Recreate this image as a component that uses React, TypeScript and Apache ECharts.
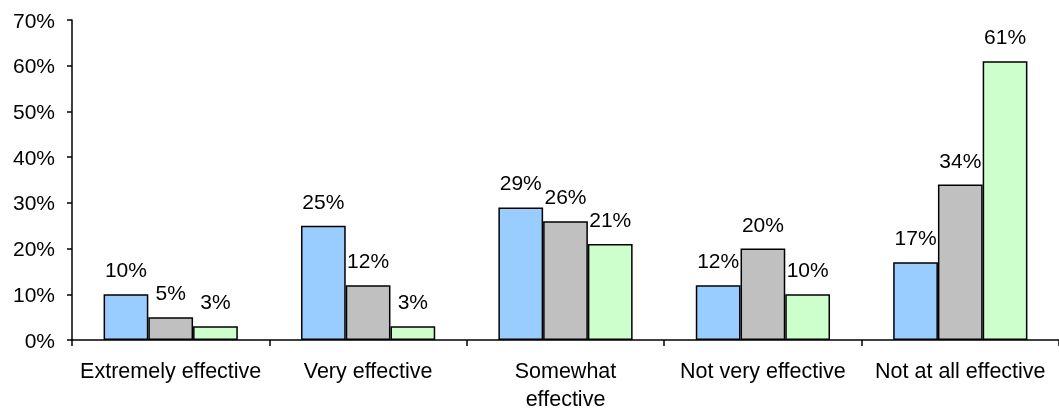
import React, { useEffect, useRef } from "react";
import * as echarts from "echarts";

const categories = [
  "Extremely effective",
  "Very effective",
  "Somewhat\neffective",
  "Not very effective",
  "Not at all effective",
];
const seriesNames = ["Series 1", "Series 2", "Series 3"];
const series1 = [10, 25, 29, 12, 17];
const series2 = [5, 12, 26, 20, 34];
const series3 = [3, 3, 21, 10, 61];
const colors = ["#99CCFF", "#C0C0C0", "#CCFFCC"];
const yTicks = { min: 0, max: 70, interval: 10 };

export default function App() {
  const ref = useRef<HTMLDivElement>(null);
  useEffect(() => {
    if (!ref.current) return;
    const chart = echarts.init(ref.current, undefined, { renderer: "svg" });
    const font = "Liberation Sans, Arial, sans-serif";
    const data = [series1, series2, series3];
    chart.setOption({
      animation: false,
      grid: { left: 72, right: -8, top: 20, bottom: 69, containLabel: false },
      xAxis: {
        type: "category",
        data: categories,
        axisLine: { lineStyle: { color: "#000", width: 1.5 } },
        axisTick: { show: true, length: 6, lineStyle: { color: "#000", width: 1.5 } },
        axisLabel: {
          color: "#000",
          fontFamily: font,
          fontSize: 21.5,
          margin: 17,
          lineHeight: 28,
          interval: 0,
        },
      },
      yAxis: {
        type: "value",
        min: yTicks.min,
        max: yTicks.max,
        interval: yTicks.interval,
        axisLine: { show: true, lineStyle: { color: "#000", width: 1.5 } },
        axisTick: { show: true, length: 5, lineStyle: { color: "#000", width: 1.5 } },
        splitLine: { show: false },
        axisLabel: {
          color: "#000",
          fontFamily: font,
          fontSize: 21,
          margin: 17,
          formatter: "{value}%",
        },
      },
      series: data.map((d, i) => ({
        name: seriesNames[i],
        type: "bar",
        data: d,
        barGap: "0%",
        barCategoryGap: "32%",
        itemStyle: { color: colors[i], borderColor: "#000", borderWidth: 1.5 },
        label: {
          show: true,
          position: "top",
          distance: 14,
          color: "#000",
          fontFamily: font,
          fontSize: 21,
          formatter: "{c}%",
        },
      })),
    });
    return () => chart.dispose();
  }, []);
  return (
    <div
      ref={ref}
      style={{ position: "fixed", left: 0, top: 0, width: 1059, height: 413 }}
    />
  );
}
